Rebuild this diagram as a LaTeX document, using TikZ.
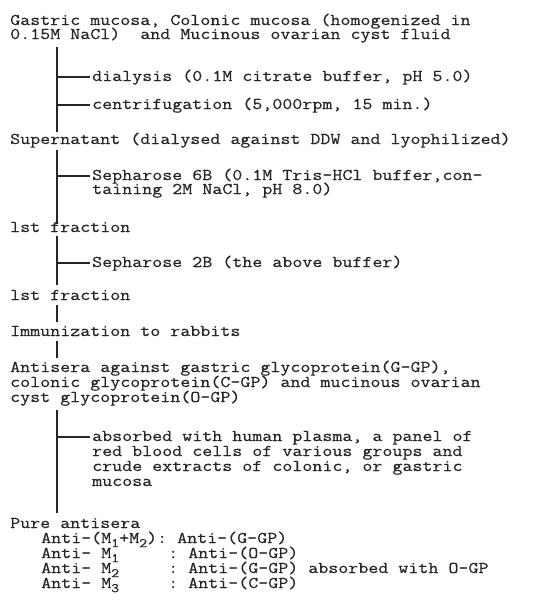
\documentclass[tikz,border=0pt]{standalone}
\usepackage{fontspec}
\setmonofont[FakeStretch=1.185,FakeBold=0.6]{Latin Modern Mono}
\usetikzlibrary{calc}
\newcommand{\subsc}[1]{\raisebox{-0.25em}{\fontsize{13}{13}\selectfont #1}}
\begin{document}
\begin{tikzpicture}[x=1pt,y=1pt,
  txt/.style={anchor=base west, inner sep=0pt, text=black!85,
    text height=10pt, text depth=2.5pt,
    font=\ttfamily\fontsize{16.4}{14}\selectfont},
  vline/.style={line width=1.4pt, black!85},
  branch/.style={line width=1.2pt, black!85}]
\useasboundingbox (0,0) rectangle (534,-600);
% texts
\node[txt] (t1a) at (10,-25) {Gastric mucosa, Colonic mucosa (homogenized in};
\node[txt] (t1b) at (10,-39) {0.15M NaCl)\ \ and Mucinous ovarian cyst fluid};
\node[txt] (dial) at (92,-81) {dialysis (0.1M citrate buffer, pH 5.0)};
\node[txt] (cent) at (92,-109) {centrifugation (5,000rpm, 15 min.)};
\node[txt] (sup) at (10,-144) {Supernatant (dialysed against DDW and lyophilized)};
\node[txt] (s6a) at (92,-180) {Sepharose 6B (0.1M Tris-HCl buffer,con-};
\node[txt] (s6b) at (92,-194) {taining 2M NaCl, pH 8.0)};
\node[txt] (f1) at (10,-232) {lst fraction};
\node[txt] (s2) at (92,-267) {Sepharose 2B (the above buffer)};
\node[txt] (f2) at (10,-300) {lst fraction};
\node[txt] (imm) at (10,-336) {Immunization to rabbits};
\node[txt] (as1) at (10,-372) {Antisera against gastric glycoprotein(G-GP),};
\node[txt] (as2) at (10,-387) {colonic glycoprotein(C-GP) and mucinous ovarian};
\node[txt] (as3) at (10,-402) {cyst glycoprotein(O-GP)};
\node[txt] (ab1) at (92,-441) {absorbed with human plasma, a panel of};
\node[txt] (ab2) at (92,-456) {red blood cells of various groups and};
\node[txt] (ab3) at (92,-471) {crude extracts of colonic, or gastric};
\node[txt] (ab4) at (92,-486) {mucosa};
\node[txt] (pure) at (10,-528) {Pure antisera};
\node[txt] (a1) at (41,-543) {Anti-(M\subsc{1}+M\subsc{2}): Anti-(G-GP)};
\node[txt] (a2) at (41,-558) {Anti- M\subsc{1}};
\node[txt] (a3) at (41,-573) {Anti- M\subsc{2}};
\node[txt] (a4) at (41,-588) {Anti- M\subsc{3}};
\node[txt] (b2) at (168,-558) {: Anti-(O-GP)};
\node[txt] (b3) at (168,-573) {: Anti-(G-GP) absorbed with O-GP};
\node[txt] (b4) at (168,-588) {: Anti-(C-GP)};
% trunk coordinates
\coordinate (v1s) at (57,-47);  \coordinate (v1e) at (57,-132);
\coordinate (v2s) at (57,-150); \coordinate (v2e) at (57,-224);
\coordinate (v3s) at (57,-236); \coordinate (v3e) at (57,-285);
\coordinate (v4s) at (57,-305); \coordinate (v4e) at (57,-322);
\coordinate (v5s) at (57,-341); \coordinate (v5e) at (57,-358);
\coordinate (v6s) at (57,-410); \coordinate (v6e) at (57,-513);
\draw[vline] (v1s) -- (v1e);
\draw[vline] (v2s) -- (v2e);
\draw[vline] (v3s) -- (v3e);
\draw[vline] (v4s) -- (v4e);
\draw[vline] (v5s) -- (v5e);
\draw[vline] (v6s) -- (v6e);
% branches
\foreach \n in {dial,cent,s6a,s2,ab1}{
  \coordinate (b\n) at ($(\n.base west)+(-2,4)$);
  \draw[branch] (v1s |- b\n) -- (b\n);
}
\end{tikzpicture}
\end{document}
